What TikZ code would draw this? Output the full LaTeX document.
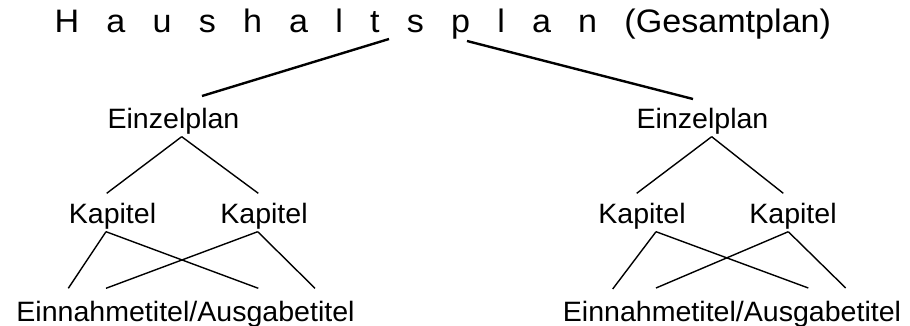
\documentclass[tikz,border=0pt]{standalone}
\usepackage{fontspec}
\newfontfamily\titlefont[FakeStretch=1.05]{Liberation Sans}
\newfontfamily\bodyfont[FakeStretch=1.02]{Liberation Sans}
\newcommand\ttgap{\hspace{27.2pt}}
\begin{document}
\begin{tikzpicture}[x=1pt,y=-1pt,
  label/.style={inner sep=0pt,anchor=base,font=\bodyfont\fontsize{28}{32}\selectfont},
  heading/.style={inner sep=0pt,anchor=base west,font=\titlefont\fontsize{32.5}{36}\selectfont},
  thickline/.style={line width=2.4pt},
  thinline/.style={line width=1.4pt}]
\useasboundingbox (0,0) rectangle (910,326);
\fill[white] (0,0) rectangle (910,326);
% title
\node[heading] (T) at (54.4,32.3) {H\ttgap a\ttgap u\ttgap s\ttgap h\ttgap a\ttgap l\ttgap t\ttgap s\ttgap p\ttgap l\ttgap a\ttgap n\ttgap (Gesamtplan)};
% left tree
\node[label] (E1) at (173.5,128.3) {Einzelplan};
\node[label] (K1) at (112.5,223.3) {Kapitel};
\node[label] (K2) at (264,223.3) {Kapitel};
\node[label] (B1) at (185.5,321.7) {Einnahmetitel/Ausgabetitel};
% right tree
\node[label] (E2) at (702.5,128.3) {Einzelplan};
\node[label] (K3) at (642,223.3) {Kapitel};
\node[label] (K4) at (793,223.3) {Kapitel};
\node[label] (B2) at (732,321.7) {Einnahmetitel/Ausgabetitel};
% title connectors
\draw[thickline] ([shift={(334.6,6.7)}]T.base west) -- ([shift={(28.5,-32.3)}]E1.base);
\draw[thickline] ([shift={(412.6,8.7)}]T.base west) -- ([shift={(-9.5,-29.3)}]E2.base);
% left tree connectors
\draw[thinline] ([shift={(8.2,8.4)}]E1.base) -- ([shift={(-5.8,-30)}]K1.base);
\draw[thinline] ([shift={(8.2,8.4)}]E1.base) -- ([shift={(-5.7,-30)}]K2.base);
\draw[thinline] ([shift={(-6.5,8.4)}]K1.base) -- ([shift={(-117.2,-33.4)}]B1.base);
\draw[thinline] ([shift={(-6.5,8.4)}]K1.base) -- ([shift={(72.8,-33.4)}]B1.base);
\draw[thinline] ([shift={(-6.3,8.4)}]K2.base) -- ([shift={(-79.5,-33.4)}]B1.base);
\draw[thinline] ([shift={(-6.3,8.4)}]K2.base) -- ([shift={(129.5,-33.4)}]B1.base);
% right tree connectors
\draw[thinline] ([shift={(9.2,8.4)}]E2.base) -- ([shift={(-5.3,-30)}]K3.base);
\draw[thinline] ([shift={(9.2,8.4)}]E2.base) -- ([shift={(-9.7,-30)}]K4.base);
\draw[thinline] ([shift={(14,8.4)}]K3.base) -- ([shift={(-119.3,-32.7)}]B2.base);
\draw[thinline] ([shift={(14,8.4)}]K3.base) -- ([shift={(76.3,-33.7)}]B2.base);
\draw[thinline] ([shift={(-4.7,8.4)}]K4.base) -- ([shift={(-76,-33.7)}]B2.base);
\draw[thinline] ([shift={(-4.7,8.4)}]K4.base) -- ([shift={(113.7,-33.7)}]B2.base);
\end{tikzpicture}
\end{document}
